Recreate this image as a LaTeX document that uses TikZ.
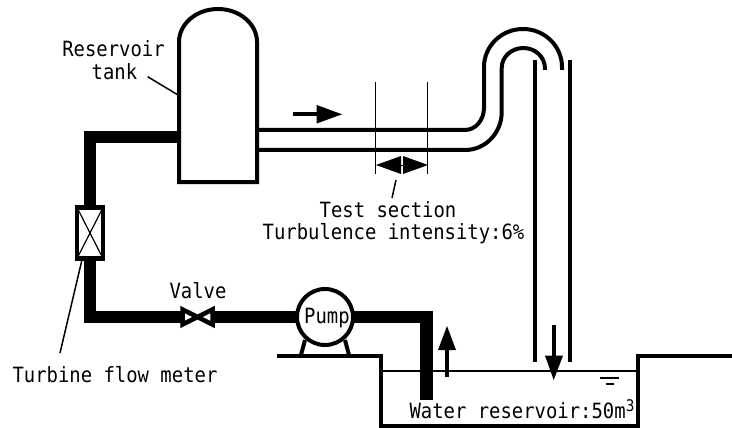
\documentclass[tikz,border=0pt]{standalone}
\usepackage{fontspec}
\setmainfont[FakeStretch=0.9]{DejaVu Sans Mono}
\begin{document}
\begin{tikzpicture}[x=1pt,y=-1pt,line join=miter,
  wall/.style={line width=4pt},
  thin pipe/.style={line width=4pt},
  thick pipe/.style={line width=12.5pt},
  leader/.style={line width=1.5pt},
  hair/.style={line width=1.5pt},
  lbl/.style={font=\fontsize{21}{21}\selectfont,inner sep=0pt,anchor=base,text=black},
  solid head/.style={fill=black,draw=none}]
\useasboundingbox (0,0) rectangle (732,428);
% pipes
\coordinate (tankL) at (179,137);
\coordinate (corner1) at (90,137);
\coordinate (corner2) at (90,317);
\coordinate (valveL) at (182,317);
\coordinate (valveR) at (213,317);
\coordinate (pumpC) at (325,317);
\coordinate (corner3) at (426.7,317);
\coordinate (pipeEnd) at (426.7,400);
\draw[thick pipe] (tankL) -- (corner1) -- (corner2) -- (valveL);
\draw[thick pipe] (valveR) -- (pumpC) -- (corner3) -- (pipeEnd);
% upper and lower test pipes
\draw[thin pipe] (257,130) -- (465,130) .. controls (475.5,130) and (484,120) .. (484,108)
  -- (484,67) arc[start angle=180,end angle=360,x radius=39,y radius=38] -- (562,70);
\draw[thin pipe] (257,150) -- (465,150) .. controls (485.5,150) and (501.7,133) .. (501.7,112)
  -- (501.7,68) arc[start angle=180,end angle=360,x radius=21.6,y radius=20] -- (544.9,70);
% tank
\draw[wall,fill=white] (179,182) -- (179,42) arc[start angle=180,end angle=360,x radius=39,y radius=33] -- (257,182) -- cycle;
% flow meter
\node[draw,fill=white,line width=4.5pt,minimum width=26pt,minimum height=51pt,inner sep=0pt,
  outer sep=0pt] (meter) at (90,233) {};
\draw[line width=1.2pt] (meter.north west) -- (meter.south east) (meter.north east) -- (meter.south west);
% valve
\draw[line width=4.5pt,fill=white,line join=miter] (182.5,309.5) -- (212.5,324.5) -- (212.5,309.5) -- (182.5,324.5) -- cycle;
% pump
\node[circle,draw,fill=white,line width=4pt,minimum size=56pt,inner sep=0pt] (pump) at (pumpC) {};
\draw[line width=4pt] (305,340) -- (301,355) (345,340) -- (349,355);
% basin
\draw[wall] (277,355.7) -- (381,355.7) -- (381,425.7) -- (638,425.7) -- (638,355.7) -- (732,355.7);
\draw[line width=2pt] (381,371) -- (638,371);
% outlet pipes
\draw[line width=4.5pt] (535,60) -- (535,361.7);
\draw[line width=4.5pt] (570,60) -- (570,361.7);
% arrows
\fill (445,376.7) rectangle (449,345);
\fill[solid head] (447,326) -- (456,350) -- (438,350) -- cycle;
\fill (551.7,324.7) rectangle (555.7,360);
\fill[solid head] (553.7,380) -- (563,355.7) -- (545,355.7) -- cycle;
\fill (293,112) rectangle (320,116.5);
\fill[solid head] (342,114.3) -- (316.7,105) -- (316.7,123.5) -- cycle;
% test section
\draw[hair] (375.7,82) -- (375.7,174);
\draw[hair] (427.7,82) -- (427.7,174);
\fill[solid head] (376,165) -- (401,156) -- (401,174) -- cycle;
\fill[solid head] (428,165) -- (403,156) -- (403,174) -- cycle;
\draw[line width=1pt] (401,165) -- (403,165);
% water level
\draw[line width=2pt] (600,378) -- (619,378);
\draw[line width=2pt] (606,384) -- (614,384);
% labels
\node[lbl] (res) at (113.5,57) {Reservoir};
\node[lbl] (tank) at (114.5,80) {tank};
\node[lbl] (valve) at (198,298) {Valve};
\node[lbl] (pumpT) at (327,323) {Pump};
\node[lbl] (meterT) at (115,382) {Turbine flow meter};
\node[lbl] (test) at (388,217) {Test section};
\node[lbl] (turb) at (393.5,239) {Turbulence intensity:6\%};
\node[lbl] (water) at (522,418) {Water reservoir:50m\raisebox{7pt}{\fontsize{16}{16}\selectfont 3}};
% leaders
\coordinate (tankTip) at (147.7,76.7);
\coordinate (tankEnd) at (178,95);
\draw[leader] (tankTip) -- (tankEnd);
\coordinate (meterTip) at (60,353);
\coordinate (meterEnd) at (81.7,261);
\draw[leader] (meterTip) -- (meterEnd);
\coordinate (testTip) at (392,198);
\coordinate (testEnd) at (396,180);
\draw[leader] (testTip) -- (testEnd);
\end{tikzpicture}
\end{document}
